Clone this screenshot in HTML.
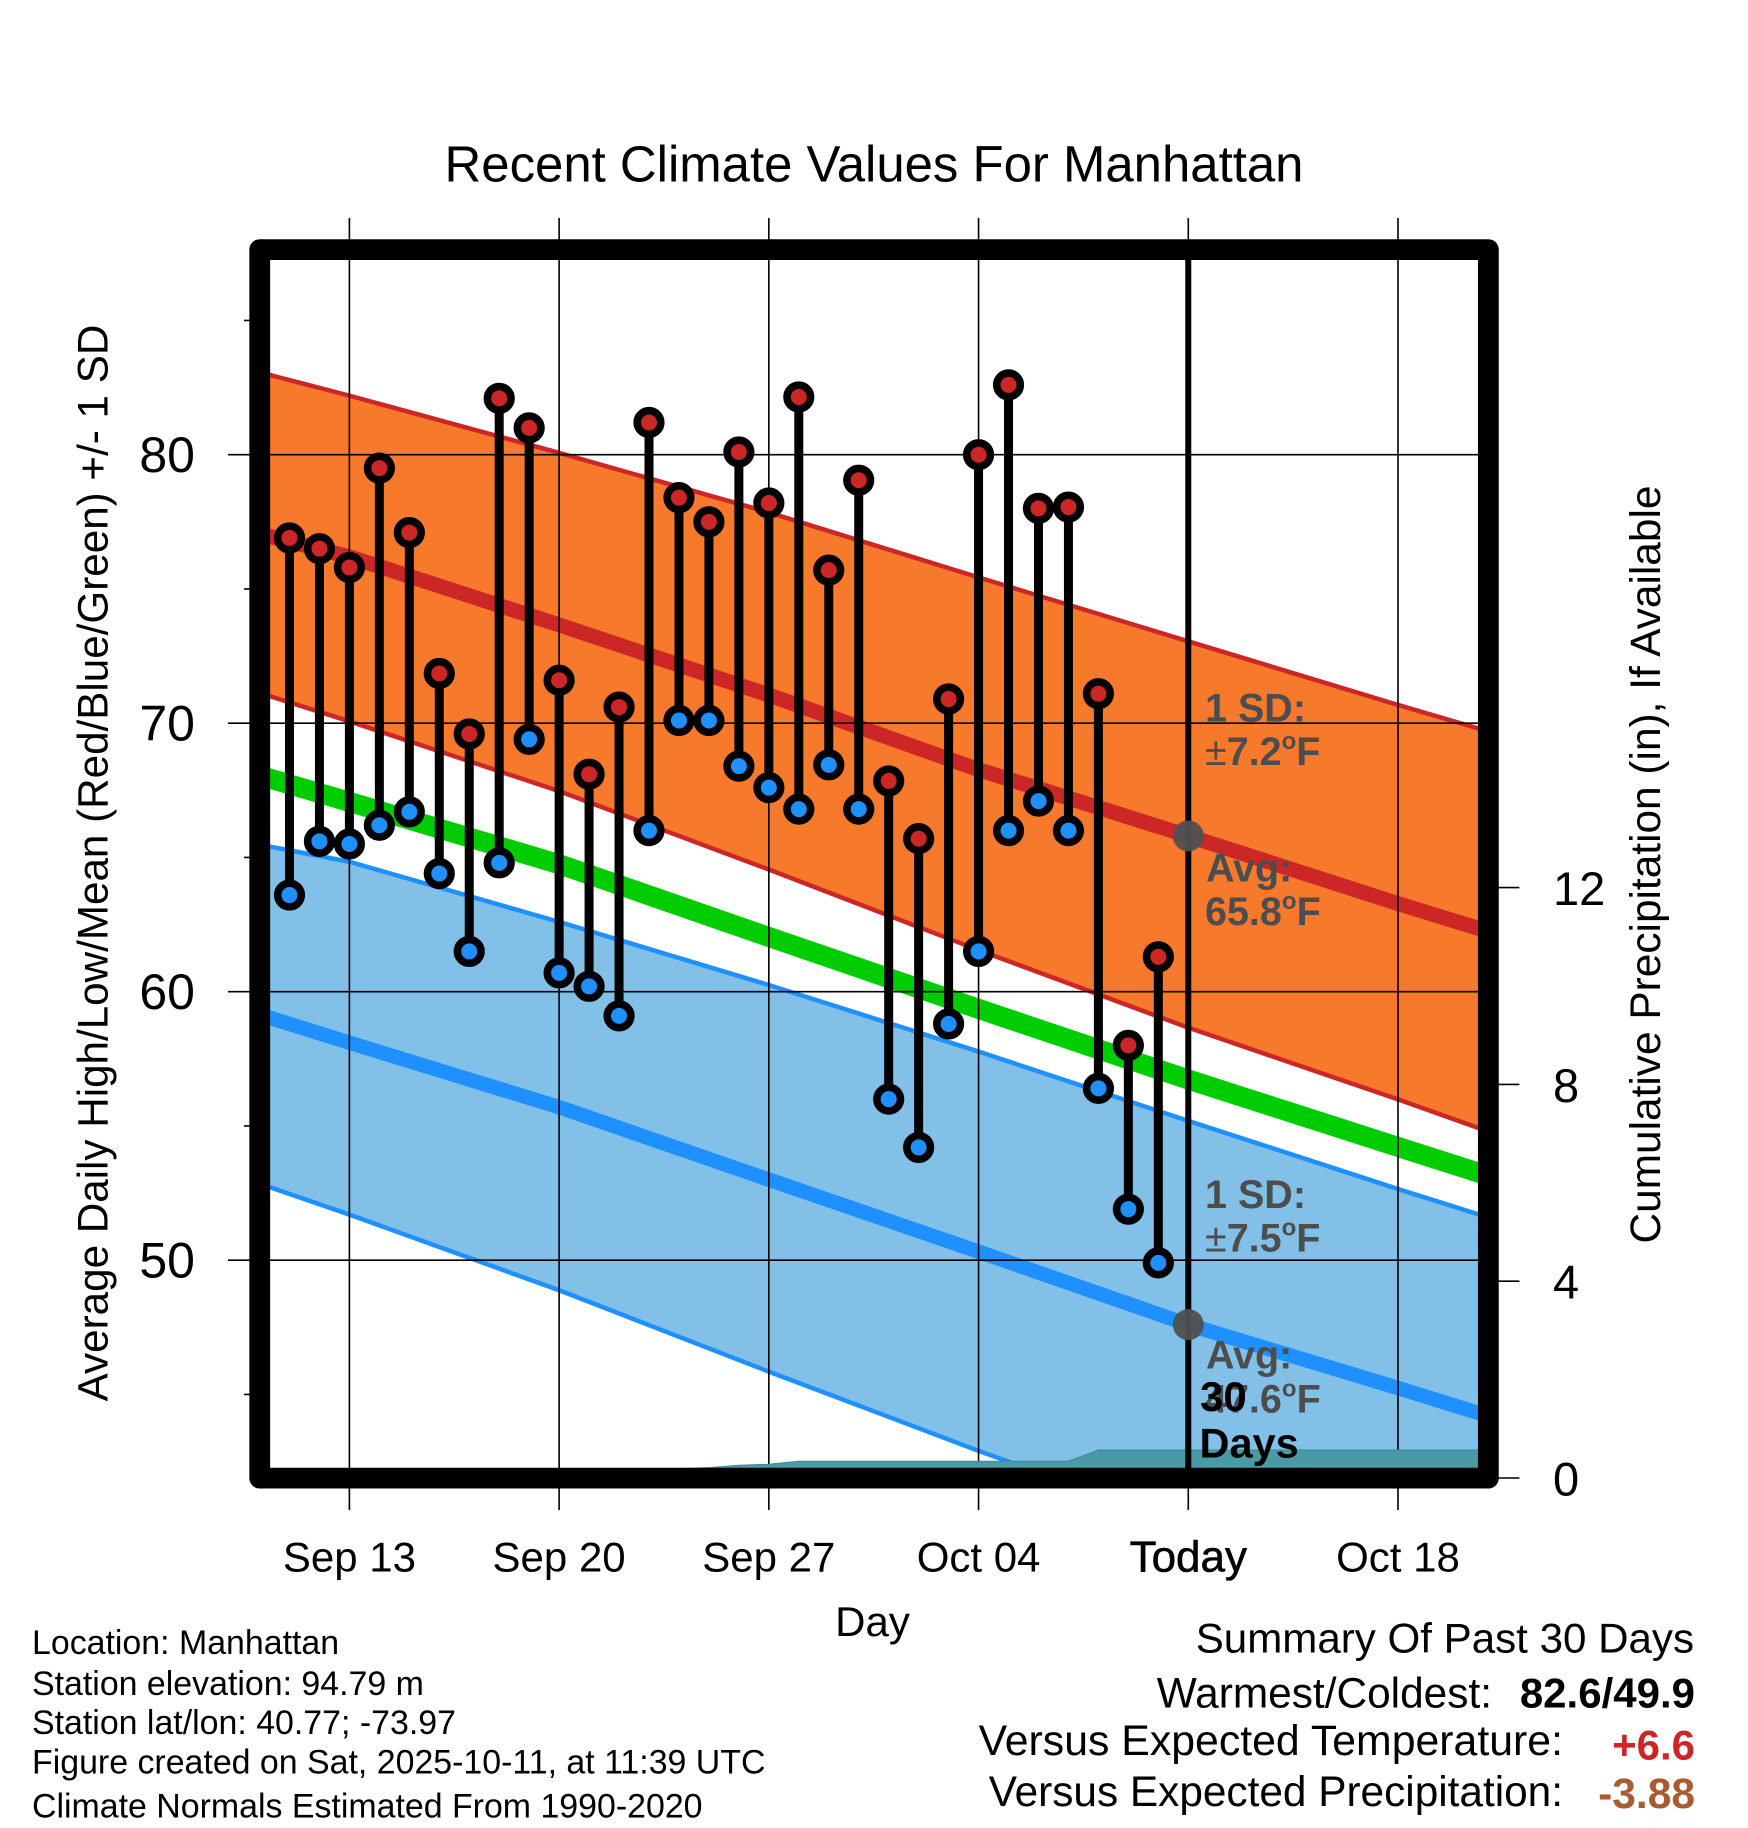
<!DOCTYPE html>
<html lang="en">
<head>
<meta charset="utf-8">
<title>Recent Climate Values For Manhattan</title>
<style>
html,body{margin:0;padding:0;background:#fff;}
svg{display:block;font-family:"Liberation Sans",Arial,sans-serif;}
.ann{font-weight:bold;font-size:39.5px;fill:#4d4d4d;}
</style>
</head>
<body>
<svg id="chart" xmlns="http://www.w3.org/2000/svg" width="1748" height="1828" viewBox="0 0 1748 1828">
  <defs>
    <clipPath id="plot-clip"><rect x="259.75" y="249.65" width="1228.6" height="1228.5"/></clipPath>
  </defs>
  <rect x="0" y="0" width="1748" height="1828" fill="#fff"/>
  <text x="874" y="181.5" font-size="50.9" text-anchor="middle" fill="#000">Recent Climate Values For Manhattan</text>

  <g id="plot-layer" clip-path="url(#plot-clip)"></g>
  <g id="axis-layer"></g>
  <rect x="259.75" y="249.65" width="1228.6" height="1228.5" fill="none" stroke="#000" stroke-width="20.8" stroke-linejoin="round"/>
  <g id="label-layer"></g>

  <g>
    <text class="ann" x="1205" y="721.7">1 SD:</text>
    <text class="ann" x="1205" y="765"><tspan font-weight="normal">±</tspan>7.2<tspan font-size="24" dy="-16">o</tspan><tspan dy="16">F</tspan></text>
    <text class="ann" x="1206" y="881.7">Avg:</text>
    <text class="ann" x="1205" y="925">65.8<tspan font-size="24" dy="-16">o</tspan><tspan dy="16">F</tspan></text>
  </g>
  <g>
    <text class="ann" x="1205" y="1208">1 SD:</text>
    <text class="ann" x="1205" y="1251.7"><tspan font-weight="normal">±</tspan>7.5<tspan font-size="24" dy="-16">o</tspan><tspan dy="16">F</tspan></text>
    <text class="ann" x="1206" y="1368.3">Avg:</text>
    <text class="ann" x="1205" y="1412.7">47.6<tspan font-size="24" dy="-16">o</tspan><tspan dy="16">F</tspan></text>
  </g>
  <text x="1200" y="1411" font-size="42" font-weight="bold" fill="#000">30</text>
  <text x="1199.5" y="1457.7" font-size="41.5" font-weight="bold" fill="#000">Days</text>

  <text transform="translate(107.5,863) rotate(-90)" font-size="42.2" text-anchor="middle" fill="#000">Average Daily High/Low/Mean (Red/Blue/Green) +/- 1 SD</text>
  <text transform="translate(1660,864.5) rotate(-90)" font-size="42.4" text-anchor="middle" fill="#000">Cumulative Precipitation (in), If Available</text>
  <text x="872.5" y="1636" font-size="42" text-anchor="middle" fill="#000">Day</text>

  <g font-size="33.9" fill="#000">
    <text x="32" y="1654">Location: Manhattan</text>
    <text x="32" y="1695">Station elevation: 94.79 m</text>
    <text x="32" y="1734">Station lat/lon: 40.77; -73.97</text>
    <text x="32" y="1773.3">Figure created on Sat, 2025-10-11, at 11:39 UTC</text>
    <text x="32" y="1817.7">Climate Normals Estimated From 1990-2020</text>
  </g>

  <g font-size="42" fill="#000" text-anchor="end">
    <text x="1694" y="1652.7" font-size="42.1">Summary Of Past 30 Days</text>
    <text x="1492" y="1707.3" font-size="42.4">Warmest/Coldest:</text>
    <text x="1695" y="1707.3" font-weight="bold">82.6/49.9</text>
    <text x="1563" y="1755" font-size="42.8">Versus Expected Temperature:</text>
    <text x="1695" y="1759.3" font-weight="bold" fill="#cd2626">+6.6</text>
    <text x="1563" y="1806" font-size="42.35">Versus Expected Precipitation:</text>
    <text x="1695" y="1808" font-size="42.5" font-weight="bold" fill="#a85c33">-3.88</text>
  </g>
</svg>

<script>
const dailyDates = ['Sep 11','Sep 12','Sep 13','Sep 14','Sep 15','Sep 16','Sep 17','Sep 18','Sep 19','Sep 20','Sep 21','Sep 22','Sep 23','Sep 24','Sep 25','Sep 26','Sep 27','Sep 28','Sep 29','Sep 30','Oct 01','Oct 02','Oct 03','Oct 04','Oct 05','Oct 06','Oct 07','Oct 08','Oct 09','Oct 10'];
const dailyHighs = [76.9,76.5,75.8,79.5,77.1,71.85,69.6,82.1,81.0,71.6,68.1,70.6,81.2,78.4,77.5,80.1,78.2,82.15,75.7,79.05,67.85,65.7,70.9,80.0,82.6,78.0,78.05,71.1,58.0,61.3];
const dailyLows = [63.6,65.6,65.5,66.2,66.7,64.4,61.5,64.8,69.4,60.7,60.2,59.1,66.0,70.1,70.1,68.4,67.6,66.8,68.45,66.8,56.0,54.2,58.8,61.5,66.0,67.1,66.0,56.4,51.9,49.9];

const normalDates = ['Sep 10','Sep 13','Sep 20','Sep 27','Oct 04','Oct 11','Oct 18','Oct 21'];
const highUpper = [83.07,82.2,80.07,77.85,75.43,73.05,70.68,69.7];
const highMean = [77.05,76.2,73.66,71.05,68.27,65.8,63.28,62.25];
const highLower = [71.13,70.07,67.47,64.55,61.55,58.66,55.99,54.8];
const meanTemp = [68.05,67.07,64.75,62.04,59.36,56.73,54.22,53.15];
const lowUpper = [65.48,64.84,62.6,60.25,57.77,55.19,52.65,51.6];
const lowMean = [59.15,58.1,55.7,53.0,50.32,47.6,45.24,44.2];
const lowLower = [52.85,51.7,48.88,45.85,42.9,40.1,37.7,36.8];

const precipDates = ['Sep 10','Sep 23','Sep 24','Sep 25','Sep 26','Sep 27','Sep 28','Oct 07','Oct 08','Oct 21'];
const precipValues = [0,0,0.19,0.21,0.26,0.28,0.34,0.34,0.57,0.57];

const xTickDates = ['Sep 13','Sep 20','Sep 27','Oct 04','Oct 11','Oct 18'];
const xTickLabels = ['Sep 13','Sep 20','Sep 27','Oct 04','Today','Oct 18'];
const yMajorTicks = [50,60,70,80];
const yMinorTicks = [45,55,65,75,85];
const rightTicks = [0,4,8,12];
const todayDate = 'Oct 11';

const SVG_NS = 'http://www.w3.org/2000/svg';
const plotLayer = document.getElementById('plot-layer');
const axisLayer = document.getElementById('axis-layer');
const labelLayer = document.getElementById('label-layer');

function dayNumber(label) {
  const parts = label.split(' ');
  return parseInt(parts[1], 10) + (parts[0] === 'Oct' ? 30 : 0);
}
function xScale(label) { return 349.4 + (dayNumber(label) - 13) * 29.96; }
function yTemp(t) { return 454.7 + (80 - t) * 26.85; }
function yPrecip(p) { return 1478 - p * 49.2; }

function make(tag, attrs, parent) {
  const el = document.createElementNS(SVG_NS, tag);
  for (const k in attrs) el.setAttribute(k, attrs[k]);
  parent.appendChild(el);
  return el;
}
function linePoints(dates, values, yFn) {
  return dates.map((d, i) => xScale(d).toFixed(2) + ',' + yFn(values[i]).toFixed(2));
}
function bandPoints(dates, top, bottom) {
  const a = linePoints(dates, top, yTemp);
  const b = linePoints(dates, bottom, yTemp).reverse();
  return a.concat(b).join(' ');
}

/* bands */
const highBand = make('polygon', {points: bandPoints(normalDates, highUpper, highLower), fill: '#f7792c'}, plotLayer);


const lowBand = make('polygon', {points: bandPoints(normalDates, lowUpper, lowLower), fill: '#82c0e8'}, plotLayer);



/* normal lines */
function normalLine(values, color, width) {
  return make('polyline', {points: linePoints(normalDates, values, yTemp).join(' '), fill: 'none', stroke: color, 'stroke-width': width, 'stroke-linejoin': 'round'}, plotLayer);
}
const l1 = normalLine(highUpper, '#cd2626', 4.5);


const l2 = normalLine(highLower, '#cd2626', 4.5);


const l3 = normalLine(lowUpper, '#1e90ff', 4.5);


const l4 = normalLine(lowLower, '#1e90ff', 4.5);


const l5 = normalLine(highMean, '#cd2626', 15);


const l6 = normalLine(lowMean, '#1e90ff', 14.5);


const l7 = normalLine(meanTemp, '#00cd00', 20);



/* grid */
yMajorTicks.forEach(function (t) {
  const g = make('line', {x1: 230, x2: 1488, y1: yTemp(t), y2: yTemp(t), stroke: '#000', 'stroke-width': 1.6}, plotLayer);
  
  
});
xTickDates.forEach(function (d) {
  const g = make('line', {x1: xScale(d), x2: xScale(d), y1: 250, y2: 1478, stroke: '#000', 'stroke-width': 1.6}, plotLayer);
  
  
});

/* precipitation */
const precipLine = linePoints(precipDates, precipValues, yPrecip);
const precipBase = [xScale(precipDates[precipDates.length - 1]) + ',' + yPrecip(0), xScale(precipDates[0]) + ',' + yPrecip(0)];
const precipArea = make('polygon', {points: precipLine.concat(precipBase).join(' '), fill: '#4a9aa5', stroke: '#3f8a94', 'stroke-width': 1}, plotLayer);



/* today line */
const todayLine = make('line', {x1: xScale(todayDate), x2: xScale(todayDate), y1: 250, y2: 1478, stroke: '#000', 'stroke-width': 6}, plotLayer);



/* daily stems and markers */
dailyDates.forEach(function (d, i) {
  const x = xScale(d);
  const hi = yTemp(dailyHighs[i]);
  const lo = yTemp(dailyLows[i]);
  const stem = make('line', {x1: x, x2: x, y1: hi, y2: lo, stroke: '#000', 'stroke-width': 9}, plotLayer);
  
  
  const hm = make('circle', {cx: x, cy: hi, r: 11.8, fill: '#cd2626', stroke: '#000', 'stroke-width': 7.6}, plotLayer);
  
  
  const lm = make('circle', {cx: x, cy: lo, r: 11.8, fill: '#1e90ff', stroke: '#000', 'stroke-width': 7.6}, plotLayer);
  
  
});

/* today's normal markers */
const todayIndex = normalDates.indexOf(todayDate);
const dotHigh = make('circle', {cx: xScale(todayDate), cy: yTemp(highMean[todayIndex]), r: 15.5, fill: '#505050', 'fill-opacity': 0.95}, plotLayer);


const dotLow = make('circle', {cx: xScale(todayDate), cy: yTemp(lowMean[todayIndex]), r: 15.5, fill: '#505050', 'fill-opacity': 0.95}, plotLayer);



/* axis ticks */
xTickDates.forEach(function (d) {
  const x = xScale(d);
  const top = make('line', {x1: x, x2: x, y1: 218, y2: 245, stroke: '#000', 'stroke-width': 1.6}, axisLayer);
  
  
  const bottom = make('line', {x1: x, x2: x, y1: 1480, y2: 1510, stroke: '#000', 'stroke-width': 1.6}, axisLayer);
  
  
});
yMajorTicks.forEach(function (t) {
  const tick = make('line', {x1: 228, x2: 255, y1: yTemp(t), y2: yTemp(t), stroke: '#000', 'stroke-width': 1.6}, axisLayer);
  
  
});
yMinorTicks.forEach(function (t) {
  const tick = make('line', {x1: 244, x2: 255, y1: yTemp(t), y2: yTemp(t), stroke: '#000', 'stroke-width': 1.6}, axisLayer);
  
  
});
rightTicks.forEach(function (p) {
  const tick = make('line', {x1: 1495, x2: 1519.4, y1: yPrecip(p), y2: yPrecip(p), stroke: '#000', 'stroke-width': 1.6}, axisLayer);
  
  
});

/* tick labels */
xTickDates.forEach(function (d, i) {
  const isToday = xTickLabels[i] === 'Today';
  const t = make('text', {x: xScale(d), y: 1571.7, 'font-size': isToday ? 44 : 42, 'text-anchor': 'middle', fill: '#000'}, labelLayer);
  t.textContent = xTickLabels[i];
  if (isToday) {
    t.setAttribute('stroke', '#000');
    t.setAttribute('stroke-width', '0.6');
  }
  
  
});
yMajorTicks.forEach(function (v) {
  const t = make('text', {x: 195, y: yTemp(v) + 17.5, 'font-size': 50, 'text-anchor': 'end', fill: '#000'}, labelLayer);
  t.textContent = String(v);
  
  
});
rightTicks.forEach(function (v) {
  const t = make('text', {x: 1553, y: yPrecip(v) + 17.5, 'font-size': 47, fill: '#000'}, labelLayer);
  t.textContent = String(v);
  
  
});
</script>
</body>
</html>
